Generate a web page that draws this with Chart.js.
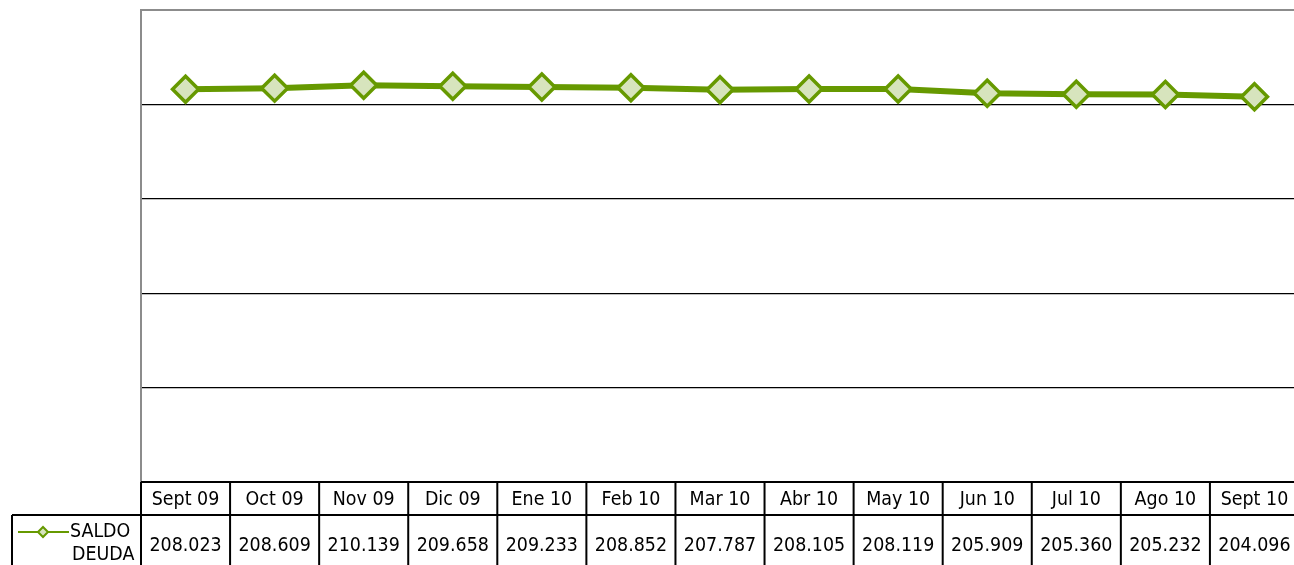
<!DOCTYPE html>
<html>
<head>
<meta charset="utf-8">
<script src="https://cdn.jsdelivr.net/npm/chart.js@4/dist/chart.umd.min.js"></script>
<style>
  html, body { margin: 0; padding: 0; background: #fff; overflow: hidden; }
  #wrap { width: 1300px; height: 565px; position: relative; }
</style>
</head>
<body>
<div id="wrap"><canvas id="c"></canvas></div>
<script>
// meses y saldo de deuda
var meses = ['Sept 09', 'Oct 09', 'Nov 09', 'Dic 09', 'Ene 10', 'Feb 10', 'Mar 10',
             'Abr 10', 'May 10', 'Jun 10', 'Jul 10', 'Ago 10', 'Sept 10'];
var saldoDeuda = [208023, 208609, 210139, 209658, 209233, 208852, 207787,
                  208105, 208119, 205909, 205360, 205232, 204096];
var serieNombre = ['SALDO', 'DEUDA'];

var verde = '#669900';
var relleno = '#d7e4bd';
var fuente = '"DejaVu Sans", Verdana, sans-serif';

function formato(n) {
    return n.toString().replace(/\B(?=(\d{3})+(?!\d))/g, '.');
}

// texto un poco estrecho, como en el original
function texto(ctx, s, x, y) {
    ctx.save();
    ctx.translate(x, y);
    ctx.scale(0.92, 1);
    ctx.fillText(s, 0, 0);
    ctx.restore();
}

// tabla de datos debajo del grafico
var tablaDatos = {
    id: 'tablaDatos',
    afterDraw: function(chart) {
        var ctx = chart.ctx;
        var area = chart.chartArea;
        var xs = chart.scales.x;
        var alto = chart.height;
        var paso = xs.getPixelForValue(1) - xs.getPixelForValue(0);
        var filaTop = area.bottom;
        var filaDatos = filaTop + 33;

        ctx.save();
        ctx.strokeStyle = '#000';
        ctx.lineWidth = 2;
        ctx.beginPath();
        ctx.moveTo(area.left, filaTop); ctx.lineTo(chart.width, filaTop);
        ctx.moveTo(12, filaDatos); ctx.lineTo(chart.width, filaDatos);
        ctx.moveTo(area.left, filaTop); ctx.lineTo(area.left, alto);
        ctx.moveTo(12, filaDatos); ctx.lineTo(12, alto);
        for (var i = 0; i < meses.length; i++) {
            var bx = xs.getPixelForValue(i) + paso / 2;
            ctx.moveTo(bx, filaTop); ctx.lineTo(bx, alto);
        }
        ctx.stroke();

        ctx.fillStyle = '#000';
        ctx.font = '19px ' + fuente;
        ctx.textAlign = 'center';
        ctx.textBaseline = 'middle';
        for (var j = 0; j < meses.length; j++) {
            var cx = xs.getPixelForValue(j);
            texto(ctx, meses[j], cx, filaTop + 18);
            texto(ctx, formato(saldoDeuda[j]), cx, filaDatos + 31);
        }

        // leyenda
        ctx.strokeStyle = verde;
        ctx.lineWidth = 2;
        ctx.beginPath();
        ctx.moveTo(18, 532); ctx.lineTo(69, 532);
        ctx.stroke();
        ctx.fillStyle = relleno;
        ctx.beginPath();
        ctx.moveTo(43 - 5, 532); ctx.lineTo(43, 527); ctx.lineTo(43 + 5, 532); ctx.lineTo(43, 537);
        ctx.closePath();
        ctx.fill();
        ctx.stroke();
        ctx.fillStyle = '#000';
        ctx.textAlign = 'left';
        texto(ctx, serieNombre[0], 70, 532);
        texto(ctx, serieNombre[1], 72, 555);
        ctx.restore();
    }
};

var ctx = document.getElementById('c');
new Chart(ctx, {
    type: 'line',
    data: {
        labels: meses,
        datasets: [{
            label: 'SALDO DEUDA',
            data: saldoDeuda,
            borderColor: verde,
            borderWidth: 6,
            backgroundColor: relleno,
            pointStyle: 'rectRot',
            pointRadius: 13,
            pointHoverRadius: 13,
            pointBorderWidth: 3.5,
            pointBackgroundColor: relleno,
            pointBorderColor: verde,
            tension: 0
        }]
    },
    options: {
        responsive: true,
        maintainAspectRatio: false,
        animation: false,
        events: [],
        layout: { autoPadding: false, padding: { left: 141, top: 10, right: 1, bottom: 83 } },
        plugins: {
            legend: { display: false },
            tooltip: { enabled: false }
        },
        scales: {
            x: {
                display: false,
                offset: true
            },
            y: {
                min: 0,
                max: 250000,
                ticks: { display: false, stepSize: 50000 },
                grid: {
                    drawTicks: false,
                    color: function(c) {
                        if (c.tick && c.tick.value === 250000) return '#8c8c8c';
                        return '#000';
                    },
                    lineWidth: function(c) {
                        if (c.tick && (c.tick.value === 250000 || c.tick.value === 0)) return 2;
                        return 1.3;
                    }
                },
                border: { color: '#8c8c8c', width: 2 }
            }
        }
    },
    plugins: [tablaDatos]
});
</script>
</body>
</html>
